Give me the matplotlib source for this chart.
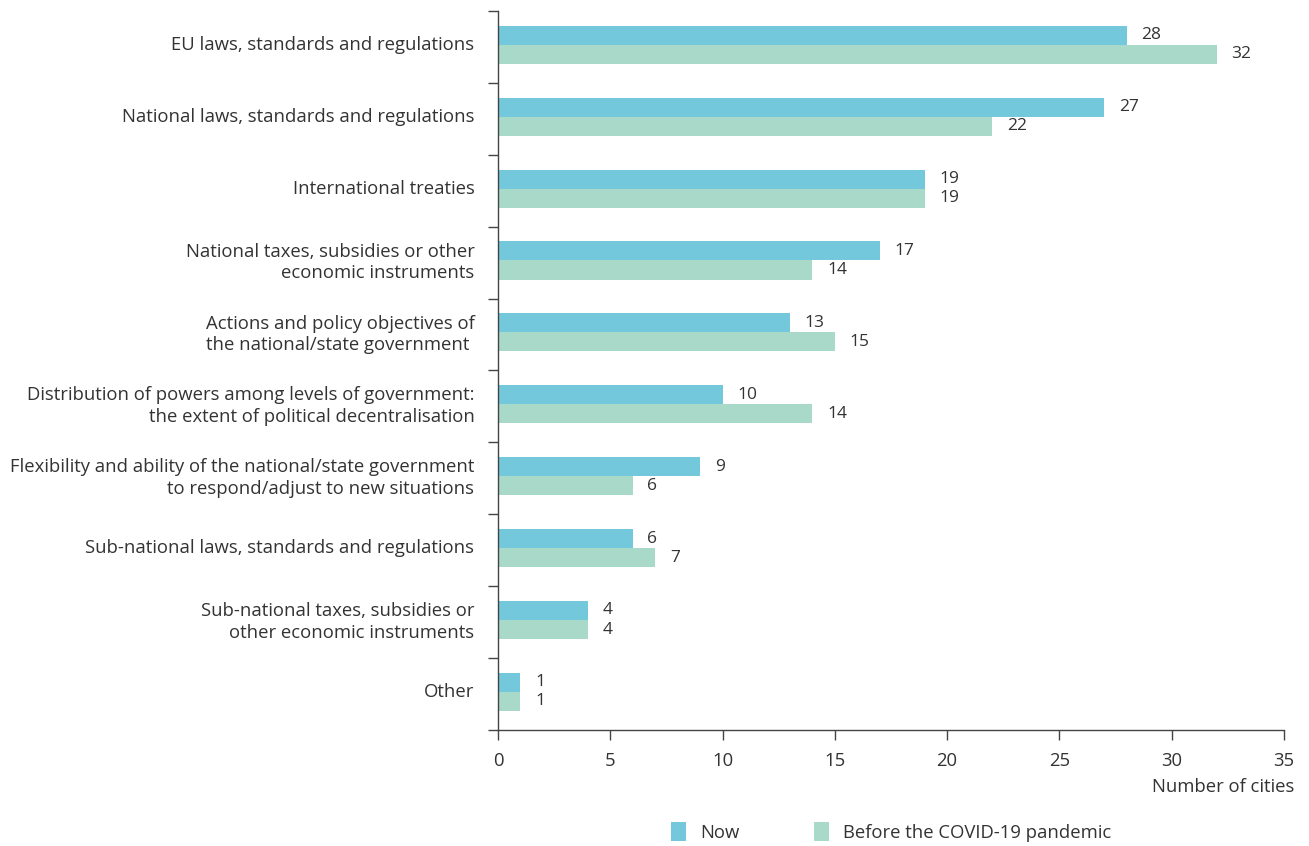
import numpy as np
import matplotlib.pyplot as plt
import matplotlib.transforms as mtransforms
from matplotlib.ticker import FixedLocator

categories = [
    "EU laws, standards and regulations",
    "National laws, standards and regulations",
    "International treaties",
    "National taxes, subsidies or other\neconomic instruments",
    "Actions and policy objectives of\nthe national/state government ",
    "Distribution of powers among levels of government:\nthe extent of political decentralisation",
    "Flexibility and ability of the national/state government\nto respond/adjust to new situations",
    "Sub-national laws, standards and regulations",
    "Sub-national taxes, subsidies or\nother economic instruments",
    "Other",
]
now = [28, 27, 19, 17, 13, 10, 9, 6, 4, 1]
before = [32, 22, 19, 14, 15, 14, 6, 7, 4, 1]

c_now = "#73C9DB"
c_before = "#A9D9C9"
txt = "#333333"

plt.rcParams['font.family'] = ['Open Sans', 'DejaVu Sans']
plt.rcParams['font.size'] = 13.3

fig = plt.figure(figsize=(13.09, 8.46), dpi=100)
ax = fig.add_axes([498 / 1309, 1 - 730 / 846, (1284 - 498) / 1309, (730 - 11) / 846])

y = np.arange(len(categories))
h = 0.265
b1 = ax.barh(y - h / 2 - 0.03, now, height=h, color=c_now, label="Now")
b2 = ax.barh(y + h / 2 - 0.03, before, height=h, color=c_before, label="Before the COVID-19 pandemic")

for bars in (b1, b2):
    for r in bars:
        w = r.get_width()
        ax.text(w + 0.65, r.get_y() + r.get_height() / 2, str(int(w)),
                va='center', ha='left', fontsize=12.5, color=txt)

ax.set_ylim(len(categories) - 0.5, -0.5)
ax.set_xlim(0, 35)
ax.set_xticks(range(0, 36, 5))
ax.set_yticks(y)
ax.set_yticklabels(categories, color=txt, linespacing=1.25)
ax.yaxis.set_minor_locator(FixedLocator(np.arange(-0.5, len(categories), 1)))
ax.tick_params(axis='y', which='major', length=0, pad=17)
ax.tick_params(axis='y', which='minor', length=7, width=1, color='#444444')
ax.tick_params(axis='x', length=7, width=1, color='#444444', labelcolor=txt, pad=9)

# nudge category labels up a little, as in the original
shift = mtransforms.ScaledTranslation(0, 4 / 100, fig.dpi_scale_trans)
for lab in ax.get_yticklabels():
    lab.set_transform(lab.get_transform() + shift)

for s in ('top', 'right'):
    ax.spines[s].set_visible(False)
for s in ('left', 'bottom'):
    ax.spines[s].set_color('#444444')
    ax.spines[s].set_linewidth(1)

ax.set_xlabel("Number of cities", color=txt)
ax.xaxis.set_label_coords(1294 / 1309, 1 - 787 / 846, transform=fig.transFigure)
ax.xaxis.label.set_ha('right')
ax.xaxis.label.set_va('center')

fig.legend(handles=[b1, b2], loc='center', bbox_to_anchor=(891 / 1309, 1 - 832 / 846),
           ncol=2, frameon=False, handlelength=0.85, handleheight=1.2,
           columnspacing=4.0, handletextpad=0.75, labelcolor=txt)

fig.savefig("out.png", dpi=100)
